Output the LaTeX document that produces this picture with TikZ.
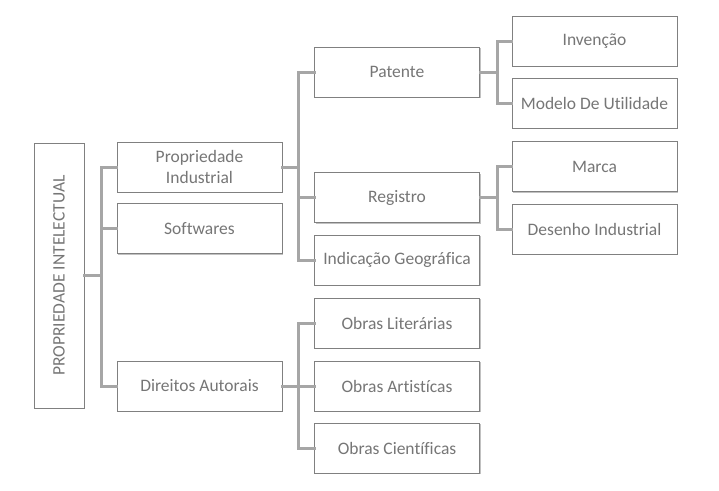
\documentclass[tikz,border=0pt]{standalone}
\usepackage{fontspec}
\setmainfont{Carlito}[Ligatures=NoCommon]
\usepackage{graphicx}
\usepackage{tikz}
\usetikzlibrary{shadows}
\usetikzlibrary{positioning,calc}

\definecolor{boxline}{HTML}{808080}
\definecolor{boxtext}{HTML}{767676}
\definecolor{linkgray}{HTML}{A6A6A6}

\tikzset{
    box/.style={draw=boxline, line width=1pt, fill=white, text=boxtext,
        minimum width=165pt, minimum height=50pt, inner sep=0pt, align=center,
        font=\fontsize{17.5}{21}\selectfont,
        drop shadow={shadow xshift=1.2pt, shadow yshift=-1.2pt, fill=black!30, opacity=0.8}},
    link/.style={draw=linkgray, line width=3pt, line cap=rect}
}

\begin{document}
\begin{tikzpicture}[x=1pt, y=-1pt]
        \useasboundingbox (0,0) rectangle (719,490);
        \def\colA{199.5}
        \def\colB{397}
        \def\colC{594.5}
        \node [box, minimum width=50pt, minimum height=265pt] (root) at (59,275.5)
            {\rotatebox{90}{PROPRIEDADE INTELECTUAL}};
        \node [box] (pind) at (\colA,167) {Propriedade\\Industrial};
        \node [box] (soft) at (\colA,228.5) {Softwares};
        \node [box] (dir) at (\colA,386) {Direitos Autorais};
        \node [box] (pat) at (\colB,72) {Patente};
        \node [box] (reg) at (\colB,197.5) {Registro};
        \node [box] (geo) at (\colB,260) {Indicação Geográfica};
        \foreach \name/\y/\label in {lit/323/Obras Literárias, art/386/Obras Artistícas, cie/448/Obras Científicas}
        {
        \node [box] (\name) at (\colB,\y) {\label};
        }
        \node [box] (inv) at (\colC,41) {Invenção};
        \node [box] (mod) at (\colC,103) {Modelo De Utilidade};
        \node [box] (mar) at (\colC,166.5) {Marca};
        \node [box] (des) at (\colC,229) {Desenho Industrial};

        \draw [link] (root.east) -- ++(17,0) coordinate (rootj);
        \foreach \n in {pind, soft, dir}
            \draw [link] (rootj) |- (\n.west);
        \draw [link] (pind.east) -- ++(16,0) coordinate (pindj);
        \foreach \n in {pat, reg, geo}
            \draw [link] (pindj) |- (\n.west);
        \draw [link] (dir.east) -- ++(16,0) coordinate (dirj);
        \foreach \n in {lit, art, cie}
            \draw [link] (dirj) |- (\n.west);
        \draw [link] (pat.east) -- ++(17,0) coordinate (patj);
        \foreach \n in {inv, mod}
            \draw [link] (patj) |- (\n.west);
        \draw [link] (reg.east) -- ++(17,0) coordinate (regj);
        \foreach \n in {mar, des}
            \draw [link] (regj) |- (\n.west);
    \end{tikzpicture}
\end{document}
